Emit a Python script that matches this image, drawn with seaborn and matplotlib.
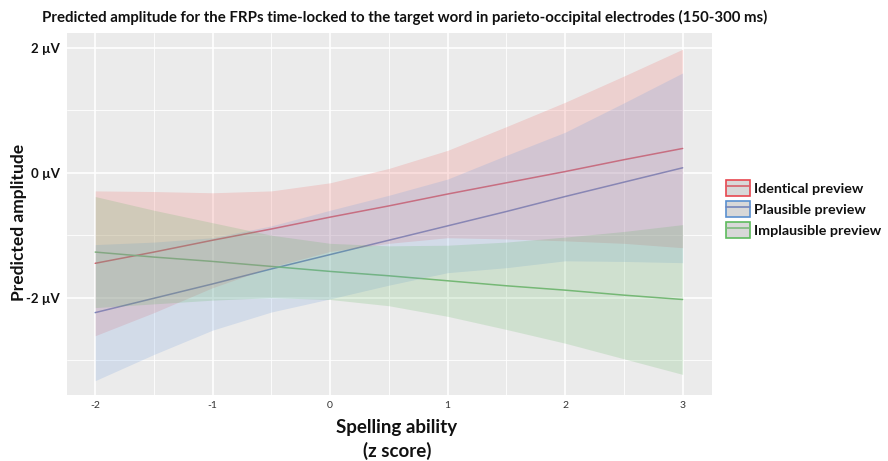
import numpy as np
import pandas as pd
import matplotlib
matplotlib.use("Agg")
import matplotlib.pyplot as plt
import seaborn as sns
from matplotlib.patches import Patch
from matplotlib.lines import Line2D
from matplotlib.ticker import MultipleLocator

# ---- data ----
x_vals = [-2, -1.5, -1, -0.5, 0, 0.5, 1, 1.5, 2, 2.5, 3]
conditions = ["Identical preview", "Plausible preview", "Implausible preview"]

identical_fit = [-1.45, -1.27, -1.08, -0.90, -0.71, -0.53, -0.34, -0.16, 0.02, 0.21, 0.39]
identical_hi = [-0.29, -0.30, -0.32, -0.29, -0.16, 0.07, 0.36, 0.74, 1.13, 1.55, 1.98]
identical_lo = [-2.61, -2.24, -1.84, -1.51, -1.26, -1.13, -1.04, -1.06, -1.09, -1.13, -1.20]

plausible_fit = [-2.24, -2.01, -1.78, -1.54, -1.31, -1.08, -0.85, -0.62, -0.38, -0.15, 0.08]
plausible_hi = [-1.15, -1.11, -1.04, -0.85, -0.60, -0.36, -0.10, 0.28, 0.65, 1.12, 1.60]
plausible_lo = [-3.33, -2.91, -2.52, -2.23, -2.02, -1.80, -1.60, -1.52, -1.41, -1.42, -1.44]

implausible_fit = [-1.27, -1.35, -1.42, -1.50, -1.58, -1.65, -1.73, -1.81, -1.88, -1.96, -2.03]
implausible_hi = [-0.38, -0.60, -0.80, -1.00, -1.13, -1.17, -1.16, -1.11, -1.03, -0.94, -0.83]
implausible_lo = [-2.16, -2.10, -2.04, -2.00, -2.03, -2.13, -2.30, -2.51, -2.73, -2.98, -3.23]

y_ticks = [2, 0, -2]
y_tick_labels = ["2 µV", "0 µV", "-2 µV"]
x_ticks = [-2, -1, 0, 1, 2, 3]

fill_colors = {"Identical preview": "#F0706C",
               "Plausible preview": "#6E9CE0",
               "Implausible preview": "#55B055"}
edge_colors = {"Identical preview": "#E8474F",
               "Plausible preview": "#5A90D0",
               "Implausible preview": "#5DBB5D"}
line_colors = {"Identical preview": "#D9606A",
               "Plausible preview": "#7486BC",
               "Implausible preview": "#7DBA7D"}
alphas = {"Identical preview": 0.22,
          "Plausible preview": 0.2,
          "Implausible preview": 0.18}

fits = [identical_fit, plausible_fit, implausible_fit]
his = [identical_hi, plausible_hi, implausible_hi]
los = [identical_lo, plausible_lo, implausible_lo]

df = pd.concat([pd.DataFrame({"x": x_vals, "fit": f, "lo": lo, "hi": hi, "cond": c})
                for c, f, lo, hi in zip(conditions, fits, los, his)], ignore_index=True)

# ---- figure ----
sns.set_theme(style="darkgrid")
plt.rcParams["font.family"] = ["Lato", "DejaVu Sans"]

fig = plt.figure(figsize=(8.88, 4.61), dpi=100)
ax = fig.add_axes([67/888, 1-395/461, (712-67)/888, (395-33)/461])
ax.set_facecolor("#EBEBEB")

sns.lineplot(data=df, x="x", y="fit", hue="cond", palette=line_colors,
             hue_order=conditions, linewidth=1.1, legend=False, ax=ax, zorder=2)
for c in conditions:
    sub = df[df["cond"] == c]
    ax.fill_between(sub["x"], sub["lo"], sub["hi"], color=fill_colors[c],
                    alpha=alphas[c], linewidth=0, zorder=3)

ax.set_xlim(-2.24, 3.25)
ax.set_ylim(-3.56, 2.24)
ax.set_xticks(x_ticks)
ax.set_xticklabels([str(t) for t in x_ticks])
ax.xaxis.set_minor_locator(MultipleLocator(0.5))
ax.set_yticks(y_ticks)
ax.set_yticklabels(y_tick_labels)
ax.yaxis.set_minor_locator(MultipleLocator(1))
ax.grid(which="major", color="white", linewidth=1.2)
ax.grid(which="minor", color="white", linewidth=0.6)
ax.set_axisbelow(True)
for s in ax.spines.values():
    s.set_visible(False)

ax.tick_params(axis="x", which="major", length=3, color="#555555",
               labelsize=7.5, labelcolor="#333333", pad=1)
ax.tick_params(axis="y", which="major", length=3, color="#555555",
               labelsize=9.5, labelcolor="#111111", pad=2)
ax.tick_params(which="minor", length=0)
for lab in ax.get_yticklabels():
    lab.set_fontweight("bold")

ax.set_xlabel("")
ax.set_ylabel("")
fig.text(397/888, 1-427/461, "Spelling ability", fontsize=13.5, fontweight="bold",
         color="#111111", ha="center", va="center")
fig.text(397/888, 1-451/461, "(z score)", fontsize=13.5, fontweight="bold",
         color="#111111", ha="center", va="center")
fig.text(19/888, 1-222/461, "Predicted amplitude", fontsize=12.5, fontweight="bold",
         color="#111111", ha="center", va="center", rotation=90)

fig.text(42/888, 1-17/461,
         "Predicted amplitude for the FRPs time-locked to the target word in parieto-occipital electrodes (150-300 ms)",
         fontsize=10.8, fontweight="bold", color="#111111", va="center", ha="left")

handles = []
for c in conditions:
    p = Patch(facecolor="#D8D8D8", edgecolor=edge_colors[c], linewidth=1.2)
    l = Line2D([0], [0], color=line_colors[c], linewidth=1.2)
    handles.append((p, l))
leg = fig.legend(handles, conditions, loc="center left",
                 bbox_to_anchor=(726/888, 1-209/461), frameon=False,
                 borderpad=0, borderaxespad=0,
                 fontsize=10.3, handlelength=1.7, handleheight=1.4,
                 labelspacing=0.3, handletextpad=0.25)
for t in leg.get_texts():
    t.set_fontweight("bold")
    t.set_color("#111111")

fig.savefig("out.png", dpi=100, facecolor="white")
